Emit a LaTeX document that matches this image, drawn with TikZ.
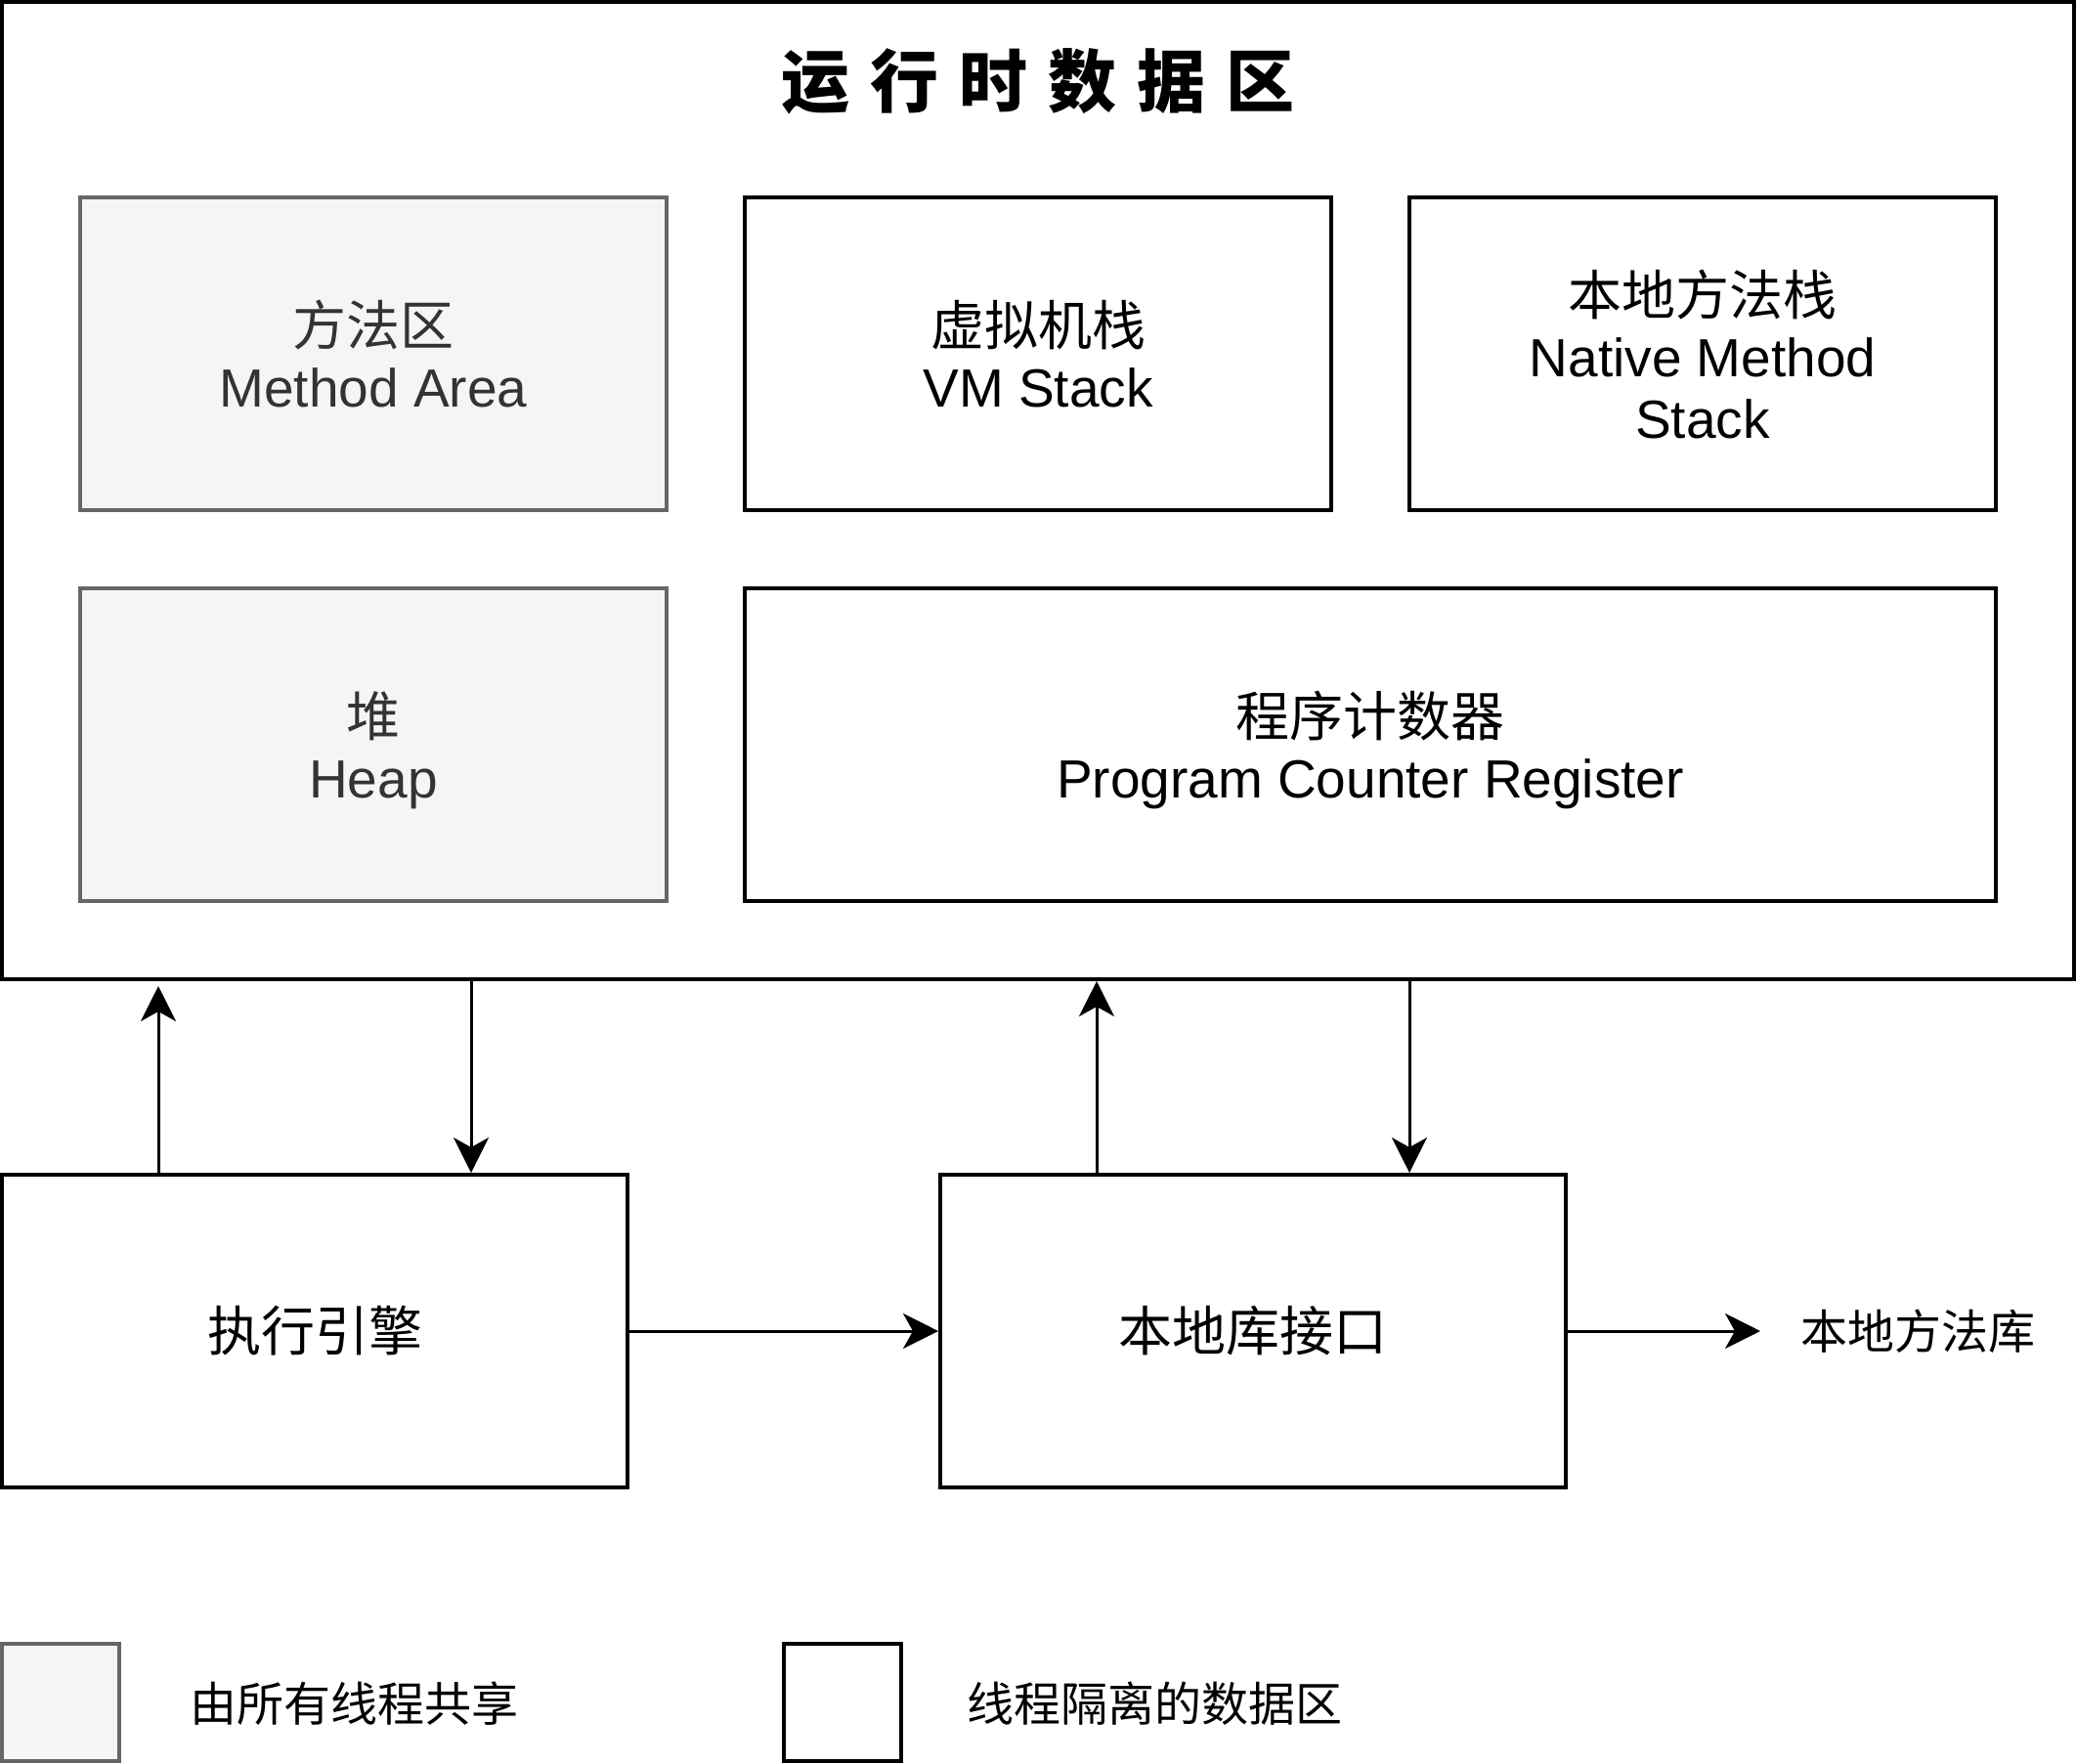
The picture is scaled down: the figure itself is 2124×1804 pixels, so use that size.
\documentclass[tikz,border=0pt]{standalone}
\usepackage{fontspec}
\setmainfont{Liberation Sans}
\newfontfamily\cjk{Noto Sans CJK SC}
\usetikzlibrary{arrows.meta}
\definecolor{sharedfill}{HTML}{F5F5F5}
\definecolor{shareddraw}{HTML}{666666}
\definecolor{sharedtext}{HTML}{333333}
\begin{document}
\begin{tikzpicture}[x=0.5pt,y=-0.5pt,
  box/.style={draw=black, line width=2pt, fill=white, minimum width=300pt, minimum height=160pt,
    align=center, inner sep=0pt, font=\fontsize{27.5}{31.5}\selectfont},
  shared/.style={box, draw=shareddraw, fill=sharedfill, text=sharedtext},
  legendbox/.style={draw=black, line width=2pt, fill=white, minimum width=60pt, minimum height=60pt, inner sep=0pt},
  small/.style={font=\fontsize{24}{28}\selectfont\cjk, inner sep=0pt},
  arr/.style={line width=1.5pt, -{Stealth[length=18pt,width=18pt,inset=5pt]}}]
\useasboundingbox (0,0) rectangle (2124,1804);
% outer runtime data area
\node[draw=black, line width=2pt, fill=white, minimum width=1060pt, minimum height=500pt, inner sep=0pt] (rda) at (1062,502) {};
\node (title) at (1062,83) {\fontsize{35}{40}\selectfont\cjk\bfseries 运\hspace{0.3em}行\hspace{0.3em}时\hspace{0.3em}数\hspace{0.3em}据\hspace{0.3em}区};
% inner boxes
\node[shared] (method) at (382,362) {{\cjk 方法区}\\Method Area};
\node[box] (vmstack) at (1062,362) {{\cjk 虚拟机栈}\\VM Stack};
\node[box] (native) at (1742,362) {{\cjk 本地方法栈}\\Native Method\\Stack};
\node[shared] (heap) at (382,762) {{\cjk 堆}\\\smash{Heap}};
\node[box, minimum width=640pt] (pc) at (1402,762) {{\cjk 程序计数器}\\\smash{Program Counter Register}};
% bottom boxes
\node[box, minimum width=320pt] (exec) at (322,1362) {\cjk 执行引擎};
\node[box, minimum width=320pt] (iface) at (1282,1362) {\cjk 本地库接口};
\node[small, anchor=west, inner xsep=20.5pt] (lib) at (1801,1362) {本地方法库};
% connectors
\draw[arr, shorten >=2.5pt] ([xshift=-80pt]exec.north) -- ([xshift=-80pt]exec.north |- rda.south);
\draw[arr] ([xshift=80pt]exec.north |- rda.south) -- ([xshift=80pt]exec.north);
\draw[arr] ([xshift=-80pt]iface.north) -- ([xshift=-80pt]iface.north |- rda.south);
\draw[arr] ([xshift=80pt]iface.north |- rda.south) -- ([xshift=80pt]iface.north);
\draw[arr] (exec.east) -- (iface.west);
\draw[arr] (iface.east) -- (lib.west);
% legend
\node[legendbox, draw=shareddraw, fill=sharedfill] (legshared) at (62,1742) {};
\node[small] (legsharedtxt) at (362,1743) {由所有线程共享};
\node[legendbox] (legprivate) at (862,1742) {};
\node[small] (legprivatetxt) at (1181,1743) {线程隔离的数据区};
\end{tikzpicture}
\end{document}
